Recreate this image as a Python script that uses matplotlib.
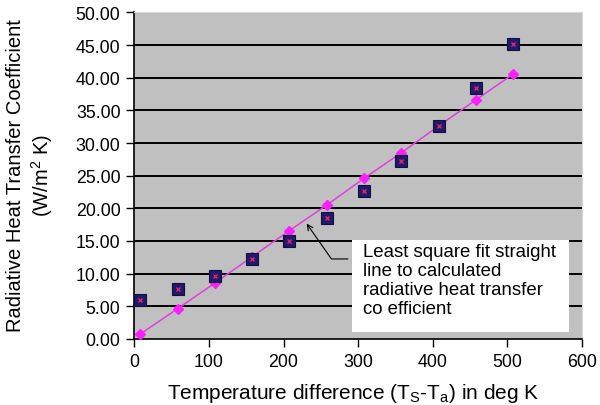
import matplotlib
matplotlib.use("Agg")
import matplotlib.pyplot as plt
from matplotlib.patches import Rectangle

plt.rcParams['font.family'] = ['Liberation Sans', 'DejaVu Sans']
plt.rcParams['mathtext.default'] = 'regular'

temp_diff = [8, 58, 108, 158, 208, 258, 308, 358, 408, 458, 508]
h_calc = [6.0, 7.65, 9.7, 12.2, 15.05, 18.55, 22.65, 27.2, 32.6, 38.35, 45.1]
h_fit = [0.77, 4.64, 8.57, 12.6, 16.6, 20.5, 24.6, 28.5, 32.6, 36.6, 40.55]

y_ticks = [0, 5, 10, 15, 20, 25, 30, 35, 40, 45, 50]
x_ticks = [0, 100, 200, 300, 400, 500, 600]

fig = plt.figure(figsize=(6.0, 4.06), dpi=100)
ax = fig.add_axes([0.224, 0.1626, 0.7455, 0.8045])
ax.set_facecolor('#c0c0c0')

ax.set_xlim(0, 600)
ax.set_ylim(0, 50)
ax.set_yticks(y_ticks)
ax.set_yticklabels([f"{v:.2f}" for v in y_ticks])
ax.set_xticks(x_ticks)
ax.tick_params(axis='both', labelsize=12.8, colors='black', length=6, width=1, direction='out')
ax.tick_params(axis='y', pad=4)
ax.tick_params(axis='x', pad=4)

for v in y_ticks[1:-1]:
    ax.axhline(v, color='black', lw=1.4, zorder=1)

for s in ['top', 'right']:
    ax.spines[s].set_color('#d8d8d8')
    ax.spines[s].set_linewidth(0.8)
for s in ['left', 'bottom']:
    ax.spines[s].set_color('black')
    ax.spines[s].set_linewidth(1.2)

ax.plot(temp_diff, h_fit, color='#e040e0', lw=1.1, zorder=3)
ax.plot(temp_diff, h_fit, linestyle='none', marker='D', ms=5.5, color='#ff20ff',
        markeredgecolor='#ff20ff', zorder=4)
ax.plot(temp_diff, h_calc, linestyle='none', marker='s', ms=8.5, color='#1f1a6a',
        markeredgecolor='#120e40', markeredgewidth=0.8, zorder=5)
ax.plot(temp_diff, h_calc, linestyle='none', marker='x', ms=3, color='#e0206a',
        markeredgewidth=1.0, zorder=6)

ax.annotate('', xy=(229, 18.0), xytext=(290, 12.25),
            arrowprops=dict(arrowstyle='->', color='black', lw=0.8,
                            connectionstyle='angle,angleA=180,angleB=-55,rad=0'),
            zorder=7)

ax.add_patch(Rectangle((292.5, 1.1), 290.5, 14.05, facecolor='white', edgecolor='none', zorder=7))
ax.text(307, 14.75, 'Least square fit straight\nline to calculated\nradiative heat transfer\nco efficient',
        fontsize=13.4, va='top', ha='left', zorder=8, linespacing=1.17)

ax.set_xlabel('Temperature difference (T$_S$-T$_a$) in deg K', fontsize=15)
ax.xaxis.set_label_coords(0.49, -0.13)
ax.set_ylabel('Radiative Heat Transfer Coefficient\n(W/m$^2$ K)', fontsize=14.5,
              linespacing=1.2)
ax.yaxis.set_label_coords(-0.178, 0.503)

fig.savefig('out.png', dpi=100)
